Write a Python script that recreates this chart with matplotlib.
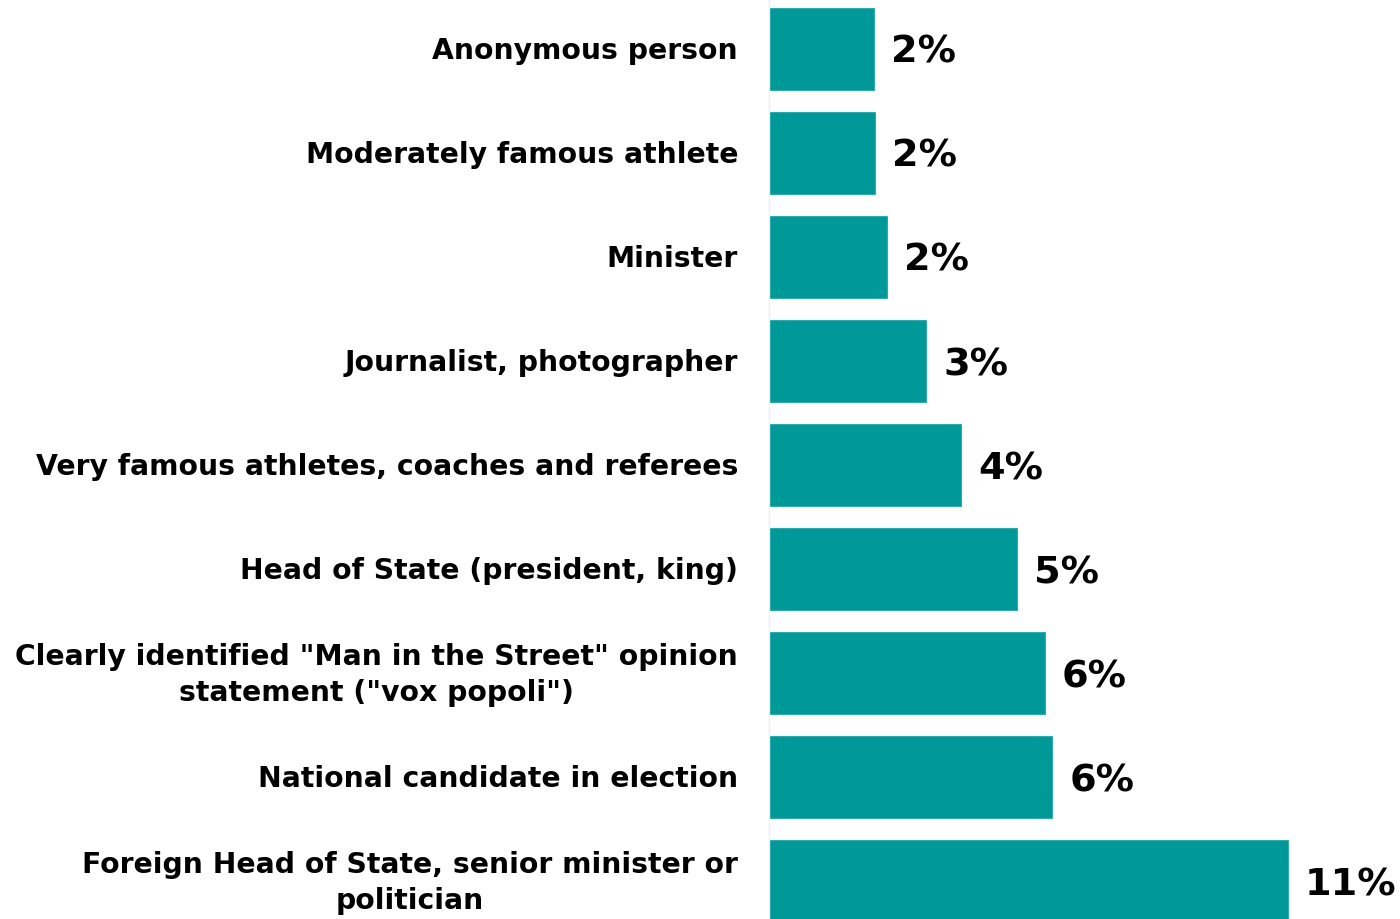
import matplotlib
matplotlib.use("Agg")
import matplotlib.pyplot as plt

categories = [
    "Anonymous person",
    "Moderately famous athlete",
    "Minister",
    "Journalist, photographer",
    "Very famous athletes, coaches and referees",
    "Head of State (president, king)",
    "Clearly identified \"Man in the Street\" opinion\nstatement (\"vox popoli\")",
    "National candidate in election",
    "Foreign Head of State, senior minister or\npolitician",
]
values = [2.22, 2.25, 2.5, 3.33, 4.07, 5.25, 5.85, 6.0, 11.0]
value_labels = ["2%", "2%", "2%", "3%", "4%", "5%", "6%", "6%", "11%"]

W, H = 1400, 919
fig = plt.figure(figsize=(W / 100, H / 100), dpi=100)
ax = fig.add_axes([769 / W, 0, (W - 769) / W, 1])

y = list(range(len(categories)))
ax.barh(y, values, height=0.79, color="#009999", edgecolor="#33aaaa", linewidth=0.8)
ax.set_xlim(0, 13.37)
ax.set_ylim(8.365, -0.471)

for yi, v, lab in zip(y, values, value_labels):
    ax.annotate(lab, (v, yi), xytext=(17, -4), textcoords="offset pixels",
                ha="left", va="center", fontsize=27.5, fontweight="bold",
                family="DejaVu Sans")

for yi, cat in zip(y, categories):
    ax.annotate(cat, (0, yi), xytext=(-31, -2), textcoords="offset pixels",
                ha="right", va="center", ma="center", fontsize=20.3,
                fontweight="bold", family="DejaVu Sans", linespacing=1.4,
                annotation_clip=False)

ax.set_xticks([])
ax.set_yticks([])
for s in ["top", "right", "bottom"]:
    ax.spines[s].set_visible(False)
ax.spines["left"].set_color("#eeeeee")
ax.spines["left"].set_linewidth(1.0)

fig.savefig("out.png", dpi=100)
